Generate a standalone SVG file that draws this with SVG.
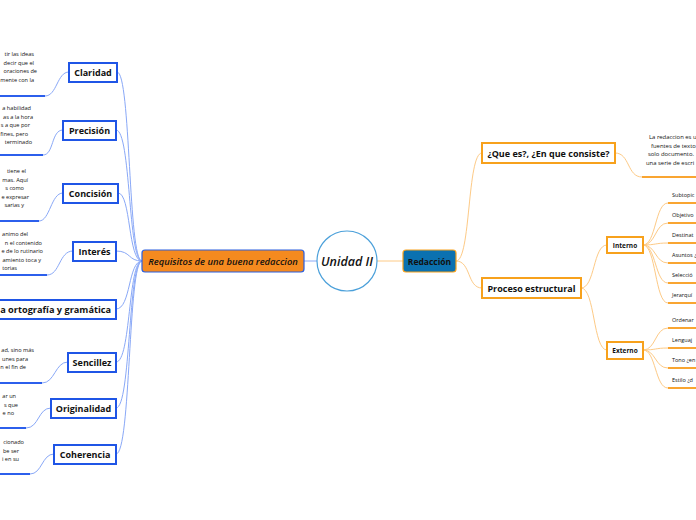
<svg xmlns="http://www.w3.org/2000/svg" width="696" height="520" viewBox="0 0 696 520">
<style>
text{font-family:"Open Sans","Noto Sans","Liberation Sans",sans-serif;fill:#111}
.lb{fill:#fff;stroke:#1f55e6;stroke-width:2}
.ob{fill:#fff;stroke:#f7a11c;stroke-width:2}
.lbl{font-size:9px;font-weight:700;text-anchor:middle}
.sm{font-size:5.9px}
.st{font-size:5.5px}
.smr{font-size:5.6px;text-anchor:end}
.bc{fill:none;stroke:#89a8f7;stroke-width:1}
.bu{fill:none;stroke:#2c5fec;stroke-width:2}
.oc{fill:none;stroke:#fdca86;stroke-width:1}
.ou{fill:none;stroke:#f9a531;stroke-width:2}
</style>
<rect width="696" height="520" fill="#fff"/>
<g id="connectors">
<path class="bc" d="M317,261 L304,261"/>
<path class="oc" d="M377,261 L403,261" stroke="#fbbf70"/>
<path class="bc" d="M142,261 C128,261 131,72 117,72"/>
<path class="bc" d="M142,261 C128,261 131,130 116,130"/>
<path class="bc" d="M142,261 C128,261 131,193 118,193"/>
<path class="bc" d="M142,261 C128,261 131,251 116,251"/>
<path class="bc" d="M142,261 C128,261 131,309 116,309"/>
<path class="bc" d="M142,261 C128,261 131,362 116,362"/>
<path class="bc" d="M142,261 C128,261 131,408 116,408"/>
<path class="bc" d="M142,261 C128,261 131,454 116,454"/>
<path class="bc" d="M69,72 C57,72 57,96 45,96"/><path class="bu" d="M45,96 L-2,96"/>
<path class="bc" d="M63,130 C51,130 54,155 43,155"/><path class="bu" d="M43,155 L-2,155"/>
<path class="bc" d="M63,193 C51,193 50,221 39,221"/><path class="bu" d="M39,221 L-2,221"/>
<path class="bc" d="M73,251 C59,251 60,275 47,275"/><path class="bu" d="M47,275 L-2,275"/>
<path class="bc" d="M68,362 C55,362 55,383 42,383"/><path class="bu" d="M42,383 L-2,383"/>
<path class="bc" d="M51,408 C38,408 39,428 26,428"/><path class="bu" d="M26,428 L-2,428"/>
<path class="bc" d="M54,454 C42,454 42,474 30,474"/><path class="bu" d="M30,474 L-2,474"/>
<path class="oc" d="M456,261 C471,261 467,153 482,153"/>
<path class="oc" d="M456,261 C471,261 467,288 482,288"/>
<path class="oc" d="M615,153 C630,153 627,177 642,177"/><path class="ou" d="M642,177 L698,177"/>
<path class="oc" d="M581,288 C595,288 593,245 607,245"/>
<path class="oc" d="M581,288 C595,288 593,350 607,350"/>
<path class="oc" d="M643,245 C656,245 655,203 668,203"/><path class="ou" d="M668,203 L698,203"/>
<path class="oc" d="M643,245 C656,245 655,223 668,223"/><path class="ou" d="M668,223 L698,223"/>
<path class="oc" d="M643,245 C656,245 655,243 668,243"/><path class="ou" d="M668,243 L698,243"/>
<path class="oc" d="M643,245 C656,245 655,263 668,263"/><path class="ou" d="M668,263 L698,263"/>
<path class="oc" d="M643,245 C656,245 655,283 668,283"/><path class="ou" d="M668,283 L698,283"/>
<path class="oc" d="M643,245 C656,245 655,303 668,303"/><path class="ou" d="M668,303 L698,303"/>
<path class="oc" d="M643,350 C656,350 655,328 668,328"/><path class="ou" d="M668,328 L698,328"/>
<path class="oc" d="M643,350 C656,350 655,348 668,348"/><path class="ou" d="M668,348 L698,348"/>
<path class="oc" d="M643,350 C656,350 655,368 668,368"/><path class="ou" d="M668,368 L698,368"/>
<path class="oc" d="M643,350 C656,350 655,388 668,388"/><path class="ou" d="M668,388 L698,388"/>
</g>
<g id="unidad">
<circle cx="347" cy="261" r="30" fill="#fff" stroke="#4ba0da" stroke-width="1.2"/>
<text x="347" y="265.5" font-size="12.5" font-style="italic" font-weight="600" text-anchor="middle">Unidad II</text>
</g>
<g id="requisitos">
<rect x="142" y="250" width="162" height="22" rx="3" fill="#f58a1f" stroke="#2a5fe0" stroke-width="1.2"/>
<text x="223" y="264.5" font-size="9.4" font-style="italic" font-weight="600" text-anchor="middle">Requisitos de una buena redaccion</text>
</g>
<g id="redaccion">
<rect x="403" y="250" width="53" height="22" rx="3" fill="#0b71b0" stroke="#f7a11c" stroke-width="1.2"/>
<text x="429.5" y="264.5" font-size="8.5" font-weight="700" text-anchor="middle">Redacción</text>
</g>
<g id="claridad">
<rect class="lb" x="69" y="63" width="48" height="19"/>
<text class="lbl" x="93" y="75.5">Claridad</text>
<text class="smr" x="34" y="56">tir las ideas</text>
<text class="smr" x="34" y="64.5">decir que el</text>
<text class="smr" x="37" y="73">oraciones de</text>
<text class="smr" x="34" y="81.5">mente con la</text>
</g>
<g id="precision">
<rect class="lb" x="63" y="121" width="53" height="19"/>
<text class="lbl" x="89.5" y="133.5">Precisión</text>
<text class="smr" x="31" y="110">a habilidad</text>
<text class="smr" x="33" y="118.5">as a la hora</text>
<text class="smr" x="30" y="127">s a que por</text>
<text class="smr" x="28" y="135.5">fines, pero</text>
<text class="smr" x="32" y="144">terminado</text>
</g>
<g id="concision">
<rect class="lb" x="63" y="184" width="55" height="19"/>
<text class="lbl" x="90.5" y="196.5">Concisión</text>
<text class="smr" x="26" y="173">tiene el</text>
<text class="smr" x="28" y="181.5">mas. Aquí</text>
<text class="smr" x="24" y="190">s como</text>
<text class="smr" x="29" y="198.5">e expresar</text>
<text class="smr" x="24" y="207">sarias y</text>
</g>
<g id="interes">
<rect class="lb" x="73" y="242" width="43" height="19"/>
<text class="lbl" x="94.5" y="254.5">Interés</text>
<text class="smr" x="28" y="236">animo del</text>
<text class="smr" x="42" y="244.5">n el contenido</text>
<text class="smr" x="43" y="253">e de lo rutinario</text>
<text class="smr" x="41" y="261.5">amiento toca y</text>
<text class="smr" x="17" y="270">torias</text>
</g>
<g id="ortografia">
<rect class="lb" x="-20" y="300" width="136" height="19"/>
<text x="111" y="312.5" font-size="9.2" font-weight="700" text-anchor="end">a ortografía y gramática</text>
</g>
<g id="sencillez">
<rect class="lb" x="68" y="353" width="48" height="19"/>
<text class="lbl" x="92" y="365.5">Sencillez</text>
<text class="smr" x="34" y="352">ad, sino más</text>
<text class="smr" x="28" y="360.5">unes para</text>
<text class="smr" x="26" y="369">n el fin de</text>
</g>
<g id="originalidad">
<rect class="lb" x="51" y="399" width="65" height="19"/>
<text class="lbl" x="83.5" y="411.5">Originalidad</text>
<text class="smr" x="16" y="398">ar un</text>
<text class="smr" x="18" y="406.5">s que</text>
<text class="smr" x="14" y="415">e no</text>
</g>
<g id="coherencia">
<rect class="lb" x="54" y="445" width="62" height="19"/>
<text class="lbl" x="85" y="457.5">Coherencia</text>
<text class="smr" x="24" y="444">cionado</text>
<text class="smr" x="19" y="452.5">be ser</text>
<text class="smr" x="19" y="461">i en su</text>
</g>
<g id="que-es">
<rect class="ob" x="482" y="143" width="133" height="20"/>
<text class="lbl" x="548.5" y="156.5">¿Que es?, ¿En que consiste?</text>
<text class="sm" x="649" y="139">La redaccion es u</text>
<text class="sm" x="651" y="147.5">fuentes de texto</text>
<text class="sm" x="648" y="156">solo documento.</text>
<text class="sm" x="646" y="164.5">una serie de escri</text>
</g>
<g id="proceso">
<rect class="ob" x="482" y="278" width="99" height="20"/>
<text class="lbl" x="531.5" y="291.5">Proceso estructural</text>
</g>
<g id="interno">
<rect class="ob" x="607" y="237" width="36" height="16"/>
<text x="625" y="247.5" font-size="6.5" font-weight="700" text-anchor="middle">Interno</text>
<text class="st" x="672" y="197">Subtopic</text>
<text class="st" x="672" y="217">Objetivo</text>
<text class="st" x="672" y="237">Destinat</text>
<text class="st" x="672" y="257">Asuntos ¿</text>
<text class="st" x="672" y="277">Selecció</text>
<text class="st" x="672" y="297">Jerarquí</text>
</g>
<g id="externo">
<rect class="ob" x="607" y="342" width="36" height="17"/>
<text x="625" y="353" font-size="6.5" font-weight="700" text-anchor="middle">Externo</text>
<text class="st" x="672" y="322">Ordenar</text>
<text class="st" x="672" y="342">Lenguaj</text>
<text class="st" x="672" y="362">Tono ¿en</text>
<text class="st" x="672" y="382">Estilo ¿d</text>
</g>
</svg>
